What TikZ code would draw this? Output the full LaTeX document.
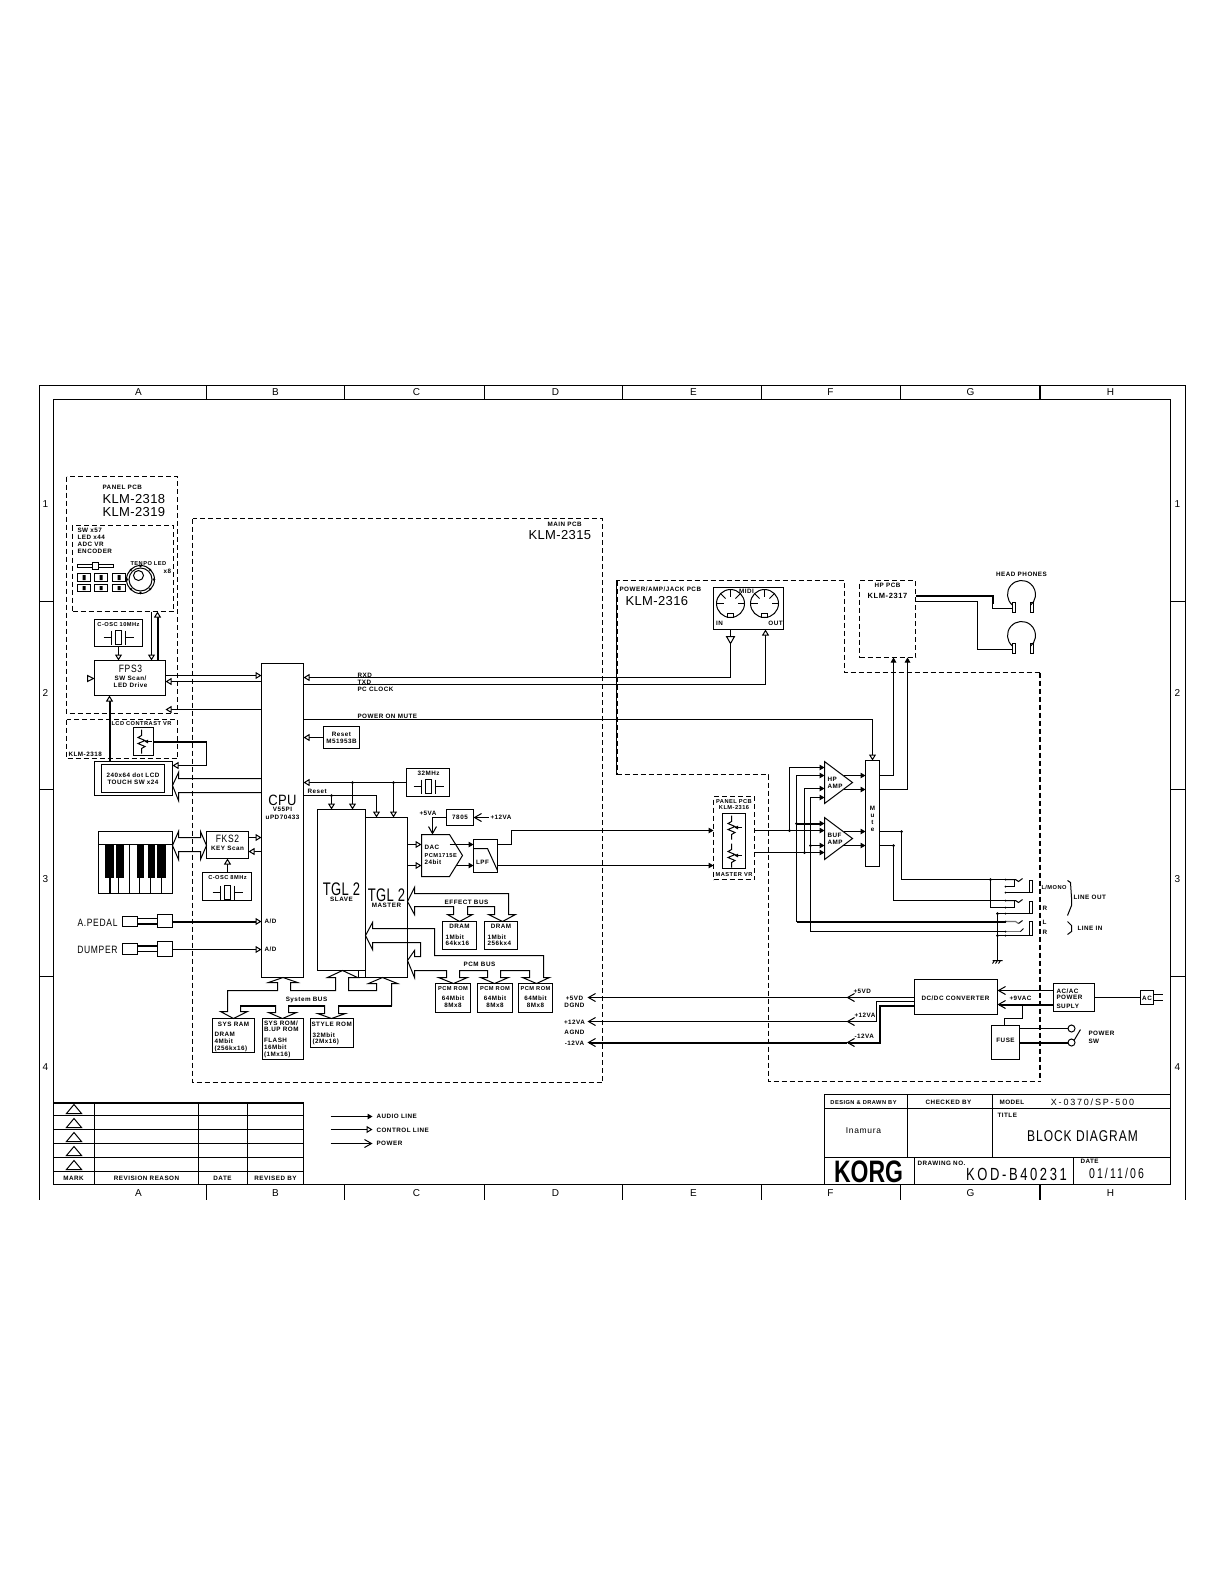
\documentclass[tikz,border=0pt]{standalone}
\usepackage{graphicx}
\usepackage{fontspec}
\setmainfont{Liberation Sans}
\newfontfamily\cad[LetterSpace=8]{Liberation Sans}
\newfontfamily\cadw[LetterSpace=20]{Liberation Sans}
\newfontfamily\cadn[LetterSpace=3]{Liberation Sans}
\usetikzlibrary{arrows.meta}
\newcounter{labc}
\tikzset{
 wire/.style={line width=1pt},
 fat/.style={line width=2pt},
 dsh/.style={line width=1pt,dash pattern=on 5pt off 3pt},
 dshb/.style={line width=2pt,dash pattern=on 5pt off 3pt},
 ctl/.style={wire,-{Triangle[open,length=6pt,width=7pt,fill=white,line width=1pt]}},
 fatctl/.style={fat,-{Triangle[open,length=6pt,width=7pt,fill=white,line width=1pt]}},
 aud/.style={wire,-{Triangle[length=5pt,width=5.5pt]}},
 fataud/.style={fat,-{Triangle[length=5pt,width=5.5pt]}},
 pow/.style={wire,-{Straight Barb[length=7pt,width=8pt,line width=1pt]}},
 fatpow/.style={fat,-{Straight Barb[length=7pt,width=8pt,line width=1pt]}},
 boxn/.style={draw,rectangle,line width=1pt,inner sep=0pt,outer sep=0pt},
 lbl/.style={inner sep=0pt,outer sep=0pt},
 sm/.style={lbl,font=\cad\bfseries\fontsize{6.3}{7}\selectfont},
 sx/.style={lbl,font=\cad\bfseries\fontsize{5.7}{6}\selectfont},
 md/.style={lbl,font=\cad\fontsize{8.5}{9}\selectfont},
 fr/.style={lbl,font=\cad\fontsize{10}{10}\selectfont},
 mb/.style={lbl,font=\cad\bfseries\fontsize{7.5}{8}\selectfont},
 lg/.style={lbl,font=\cadn\fontsize{13}{13}\selectfont},
 w/.style={anchor=west},
}
\newcommand\tall[2]{\scalebox{1}[#1]{#2}}
\newcommand\bx[6][]{\pgfmathsetmacro\bw{#5-#3}\pgfmathsetmacro\bh{#6-#4}\pgfmathsetmacro\bcx{(#3+#5)/2}\pgfmathsetmacro\bcy{(#4+#6)/2}\node[boxn,minimum width=\bw pt,minimum height=\bh pt,#1] (#2) at (\bcx,\bcy) {};}
\newcommand\lab[4][sm]{\stepcounter{labc}\node[#1] (lab\arabic{labc}) at (#2,#3) {#4};}
\newcommand\jdot[1]{\fill (#1) circle[radius=1.5pt];}
\newcommand\crystal[2]{\begin{scope}[shift={(#1,#2)}]\draw[wire] (-15,0)--(-7,0) (-7,-7)--(-7,7) (-3,-7) rectangle (3,7) (7,-7)--(7,7) (7,0)--(15,0);\end{scope}}
\newcommand\potsym[2]{\begin{scope}[shift={(#1,#2)}]\draw[wire] (0,-12)--(0,-6)--(-3.5,-4)--(3.5,-1)--(-3.5,2)--(3.5,5)--(0,7)--(0,12);\draw[wire,-{Triangle[length=3.5pt,width=3.5pt]}] (10,0)--(3,0);\end{scope}}
\newcommand\jackout[1]{\begin{scope}[shift={(0,#1)}]\draw[wire] (1005,0)--(1015,0)--(1018,2)--(1022,-1);\draw[line width=1.2pt] (1005,7)--(1014,7)--(1014,0);\draw[wire] (1005,13)--(1032,13)--(1032,1)--(1029,1)--(1029,13);\fill (1005,0) circle[radius=1pt] (1005,7) circle[radius=1pt] (1005,13) circle[radius=1pt];\end{scope}}
\newcommand\midic[2]{\begin{scope}[shift={(#1,#2)}]\draw[wire] (0,0) circle[radius=14pt];\foreach \a in {180,225,270,315,360}{\draw[wire] (\a:14)--(\a:7);}\draw[wire] (-3,10) rectangle (3,14);\end{scope}}
\newcommand\phone[2]{\begin{scope}[shift={(#1,#2)}]\draw[wire] (-9,10.7) arc[start angle=230,end angle=-50,radius=14pt];\draw[line width=1.1pt] (-9,8) rectangle (-6,18) (9,8) rectangle (12,18);\end{scope}}
\begin{document}
\begin{tikzpicture}[x=1pt,y=-1pt,shift={(0.5,0.5)}]
\path[use as bounding box,fill=white] (-0.5,-0.5) rectangle (1224.5,1584.5);
% ---- frame
\draw[wire] (39,1199)--(39,385)--(1185,385)--(1185,1199);
\bx{frameinner}{53}{399}{1170}{1184}
\foreach \x in {206,344,484,622,761,900}{\draw[wire] (\x,385)--(\x,399) (\x,1184)--(\x,1199);}
\draw[fat] (1039,385)--(1039,399) (1039,1184)--(1039,1199);
\foreach \y in {601,789,976}{\draw[wire] (39,\y)--(53,\y) (1170,\y)--(1185,\y);}
\lab[fr]{138}{392}{A}\lab[fr]{275}{392}{B}\lab[fr]{416}{392}{C}\lab[fr]{555}{392}{D}\lab[fr]{693}{392}{E}\lab[fr]{830}{392}{F}\lab[fr]{970}{392}{G}\lab[fr]{1110}{392}{H}
\lab[fr]{138}{1193}{A}\lab[fr]{275}{1193}{B}\lab[fr]{416}{1193}{C}\lab[fr]{555}{1193}{D}\lab[fr]{693}{1193}{E}\lab[fr]{830}{1193}{F}\lab[fr]{970}{1193}{G}\lab[fr]{1110}{1193}{H}
\lab[fr]{45}{504}{1}\lab[fr]{45}{692}{2}\lab[fr]{45}{879}{3}\lab[fr]{45}{1067}{4}
\lab[fr]{1177}{504}{1}\lab[fr]{1177}{692}{2}\lab[fr]{1177}{879}{3}\lab[fr]{1177}{1067}{4}
% ---- dashed zones
\draw[dsh] (66,476) rectangle (177,713);
\draw[dsh] (66,719) rectangle (177,758);
\draw[dsh] (192,518) rectangle (602,1082);
\draw[dsh] (616,774)--(616,580)--(844,580)--(844,672)--(1039,672);
\draw[dshb] (616,580)--(616,774);
\draw[dsh] (616,774)--(768,774)--(768,1081)--(1039,1081);
\draw[dshb] (1039,672)--(1039,1081);
% ---- panel pcb
\lab[sm,w]{102}{487}{PANEL PCB}
\lab[lg,w]{102}{499}{KLM-2318}
\lab[lg,w]{102}{512}{KLM-2319}
\bx[dsh]{swbox}{72}{525}{173}{611}
\lab[sm,w]{77}{530}{SW x57}\lab[sm,w]{77}{537}{LED x44}\lab[sm,w]{77}{544}{ADC VR}\lab[sm,w]{77}{551}{ENCODER}
\draw[wire] (77,564) rectangle (113,567);
\draw[wire,fill=white] (92,562) rectangle (98,569);
\foreach \xa/\xb in {77/90,94/107,112/125}{
  \draw[wire] (\xa,573) rectangle (\xb,581) (\xa,584) rectangle (\xb,591);
  \pgfmathsetmacro\xc{(\xa+\xb)/2}
  \fill (\xc-1.5,574.5) rectangle (\xc+1.5,579.5) (\xc-1.5,585.5) rectangle (\xc+1.5,589.5);}
\lab[sx,w]{130}{563}{TENPO LED}
\lab[sm,w]{163}{571}{x8}
\begin{scope}[shift={(140,579)}]
\draw[wire] (0,0) circle[radius=14pt] (0,0) circle[radius=11.5pt] (-2,-4) circle[radius=5pt];
\foreach \a in {0,45,...,315}{\fill (\a:13.5) circle[radius=1.3pt];}
\end{scope}
\bx{osca}{94}{619}{142}{646}
\lab[sx]{118}{624}{C-OSC 10MHz}
\crystal{118}{637}
\bx{fps}{94}{660}{165}{695}
\lab[md]{130}{668}{\tall{1.25}{FPS3}}\lab[sm]{130}{678}{SW Scan/}\lab[sm]{130}{685}{LED Drive}
\draw[ctl] (osca.south)--(osca.south |- fps.north);
\draw[ctl] (swbox.south -| 151,0)--(fps.north -| 151,0);
\draw[fatctl] (fps.north -| 157,0)--(swbox.south -| 157,0);
\draw[wire,fill=white] (87,675)--(93,678)--(87,681)--cycle;
% ---- CPU
\bx{cpu}{261}{663}{303}{977}
\lab[lg]{282}{800}{\tall{1.15}{CPU}}\lab[sm]{282}{809}{V55PI}\lab[sm]{282}{817}{uPD70433}
\draw[ctl] (fps.east |- 0,675)--(cpu.west |- 0,675);
\draw[ctl] (cpu.west |- 0,681)--(fps.east |- 0,681);
\coordinate (pnlfree) at (165,709);
\draw[ctl] (cpu.west |- 0,709)--(pnlfree);
% ---- LCD
\lab[sx,w]{111}{723}{LCD CONTRAST VR}
\lab[sm,w]{68}{754}{KLM-2318}
\bx{cvr}{133}{727}{153}{755}
\potsym{141}{741}
\bx{lcd}{94}{761}{172}{795}
\bx{lcdin}{101}{764}{164}{792}
\lab[sm]{132.5}{775}{240x64 dot LCD}\lab[sm]{132.5}{782}{TOUCH SW x24}
\draw[fatctl] (lcd.north -| 109,0)--(fps.south -| 109,0);
\draw[fat] (cvr.east)--(cvr.east -| 206,0);
\draw[ctl] (cvr.east -| 206,0)--(206,765)--(lcd.east |- 0,765);
\draw[wire] (cpu.west |- 0,778)--(178,778)--(178,772)--(lcd.east |- 0,785)--(178,800)--(178,792)--(cpu.west |- 0,792);
% ---- keyboard
\bx{kbd}{98}{831}{172}{893}
\draw[wire] (98,844)--(172,844);
\foreach \x in {118,129,139,150,161}{\draw[wire] (\x,844)--(\x,893);}
\draw[fat] (109,844)--(109,893);
\foreach \xa/\xb in {104/113,115/123,136/143,147/154,156/165}{\fill (\xa,844) rectangle (\xb,877);}
\bx{fks}{206}{831}{248}{858}
\lab[md]{227}{838}{\tall{1.25}{FKS2}}\lab[sm]{227}{848}{KEY Scan}
\draw[wire] (kbd.east |- 0,845)--(178,831)--(178,837)--(200,837)--(200,831)--(fks.west |- 0,845)--(200,859)--(200,851)--(178,851)--(178,859)--cycle;
\draw[ctl] (fks.east |- 0,837)--(cpu.west |- 0,837);
\draw[ctl] (cpu.west |- 0,851)--(fks.east |- 0,851);
\bx{oscb}{202}{872}{251}{900}
\lab[sx]{227}{877}{C-OSC 8MHz}
\crystal{227}{892}
\draw[ctl] (oscb.north -| fks.south)--(fks.south);
% ---- pedals
\lab[md,anchor=east]{117}{922}{\tall{1.25}{A.PEDAL}}
\bx{pda}{122}{916}{137}{926}
\bx{pdb}{157}{914}{172}{927}
\draw[wire] (pda.east |- 0,918)--(pdb.west |- 0,918);
\draw[fat] (pda.east |- 0,923)--(pdb.west |- 0,923);
\draw[fatctl] (pdb.east |- 0,921)--(cpu.west |- 0,921);
\lab[sm,w]{264}{921}{A/D}
\lab[md,anchor=east]{117}{949}{\tall{1.25}{DUMPER}}
\bx{dpa}{122}{943}{137}{954}
\bx{dpb}{157}{941}{172}{956}
\draw[fat] (dpa.east |- 0,945)--(dpb.west |- 0,945);
\draw[wire] (dpa.east |- 0,951)--(dpb.west |- 0,951);
\draw[ctl] (dpb.east |- 0,949)--(cpu.west |- 0,949);
\lab[sm,w]{264}{949}{A/D}
% ---- right of CPU
\lab[sm,w]{357}{675}{RXD}\lab[sm,w]{357}{682}{TXD}\lab[sm,w]{357}{689}{PC CLOCK}\lab[sm,w]{357}{716}{POWER ON MUTE}
\bx{midi}{713}{587}{783}{629}
\midic{730}{603}\midic{764}{603}
\lab[sm]{746}{591}{MIDI}\lab[sm]{719}{623}{IN}\lab[sm]{775}{623}{OUT}
\draw[ctl] (midi.south -| 730,0)--(730,677)--(cpu.east |- 0,677);
\draw[wire,fill=white] (726,636)--(734,636)--(730,643)--cycle;
\draw[ctl] (cpu.east |- 0,684)--(765,684)--(midi.south -| 765,0);
\bx{mute}{865}{760}{879}{866}
\foreach \c/\yy in {M/808,u/815,t/822,e/829}{\lab[sm]{872}{\yy}{\c}}
\draw[ctl] (cpu.east |- 0,719)--(mute.north |- 0,719)--(mute.north);
\bx{rst}{323}{726}{359}{748}
\lab[sm]{341}{734}{Reset}\lab[sm]{341}{741}{M51953B}
\draw[ctl] (rst.west)--(rst.west -| cpu.east);
\bx{xtal}{406}{768}{449}{796}
\lab[sm]{428}{773}{32MHz}
\crystal{428}{786}
\draw[ctl] (xtal.west)--(xtal.west -| cpu.east);
% ---- TGL
\bx{tgm}{365}{817}{407}{977}
\bx[fill=white]{tgs}{317}{809}{365}{970}
\draw[wire] (358,970)--(358,977)--(tgm.south west);
\lab[lg]{341}{889}{\tall{1.4}{TGL 2}}\lab[sm]{341}{899}{SLAVE}
\lab[lg]{386}{895}{\tall{1.4}{TGL 2}}\lab[sm]{386}{905}{MASTER}
\coordinate (ja) at (352,782);\coordinate (jb) at (393,782);\coordinate (jc) at (331,795);
\jdot{ja}\jdot{jb}\jdot{jc}
\draw[ctl] (ja)--(ja |- tgs.north);
\draw[ctl] (jb)--(jb |- tgm.north);
\draw[ctl] (jc)--(jc |- tgs.north);
\draw[ctl] (cpu.east |- 0,795)--(376,795)--(tgm.north -| 376,0);
\lab[sm,w]{307}{791}{Reset}
% ---- DAC / LPF
\draw[wire] (421,834)--(449,834)--(462,855)--(449,876)--(421,876)--cycle;
\coordinate (dacn) at (432,834);\coordinate (dacA) at (421,844);\coordinate (dacB) at (421,865);\coordinate (dacC) at (449,844);\coordinate (dacD) at (456,865);
\lab[sm,w]{424}{847}{DAC}\lab[sx,w]{424}{855}{PCM1715E}\lab[sm,w]{424}{862}{24bit}
\bx{reg}{446}{809}{473}{825}
\lab[sm]{459.5}{817}{7805}
\lab[sm,w]{419}{813}{+5VA}
\lab[sm,w]{490}{817}{+12VA}
\draw[pow] (reg.west)--(reg.west -| dacn)--(dacn);
\coordinate (p12) at (488,817);
\draw[pow] (p12)--(reg.east);
\bx{lpf}{473}{839}{497}{872}
\draw[wire] (473,848)--(487,848)--(497,870);
\lab[sm]{482}{862}{LPF}
\draw[ctl] (tgm.east |- dacA)--(dacA);
\draw[ctl] (tgm.east |- dacB)--(dacB);
\draw[aud] (dacC)--(dacC -| lpf.west);
\draw[aud] (dacD)--(dacD -| lpf.west);
% ---- buses
\draw[wire] (227,1011)--(227,990)--(277,990)--(277,982)--(268,982)--(282.5,977)--(297,982)--(290,982)--(290,990)--(335,990)--(335,977)--(327,977)--(342,970)--(357,977)--(348,977)--(348,990)--(376,990)--(376,983)--(368,983)--(382,977)--(397,983)--(391,983)--(391,1005)--(338,1005)--(338,1013)--(345,1013)--(331,1018)--(317,1013)--(324,1013)--(324,1005)--(288,1005)--(288,1012)--(296,1012)--(282,1018)--(268,1012)--(275,1012)--(275,1005)--(240,1005)--(240,1011)--(247,1011)--(233,1018)--(220,1011)--cycle;
\draw[fat] (240,1005)--(275,1005) (288,1005)--(324,1005) (338,1005)--(391,1005);
\lab[sm]{306}{999}{System BUS}
\draw[wire] (414,887)--(414,893)--(508,893)--(508,914)--(515,914)--(502,921)--(488,914)--(494,914)--(494,906)--(467,906)--(467,914)--(472,914)--(459,921)--(447,914)--(453,914)--(453,906)--(414,906)--(414,914)--(407,901)--cycle;
\lab[sm]{466}{902}{EFFECT BUS}
\draw[wire] (372,922)--(372,928)--(434,928)--(434,955)--(543,955)--(543,977)--(549,977)--(536,983)--(522,977)--(529,977)--(529,970)--(500,970)--(500,977)--(508,977)--(494,983)--(480,977)--(487,977)--(487,970)--(459,970)--(459,977)--(467,977)--(453,983)--(438,977)--(446,977)--(446,970)--(414,970)--(414,977)--(407,960)--(414,950)--(414,956)--(420,956)--(420,942)--(372,942)--(372,949)--(365,935)--cycle;
\lab[sm]{479}{964}{PCM BUS}
% ---- memories
\bx{dra}{442}{921}{476}{949}
\lab[sm]{459}{926}{DRAM}\lab[sm,w]{445}{937}{1Mbit}\lab[sm,w]{445}{943}{64kx16}
\bx{drb}{484}{921}{517}{949}
\lab[sm]{500.5}{926}{DRAM}\lab[sm,w]{487}{937}{1Mbit}\lab[sm,w]{487}{943}{256kx4}
\bx{pra}{435}{983}{470}{1012}
\bx{prb}{477}{983}{512}{1012}
\bx{prc}{518}{983}{552}{1012}
\foreach \xx in {452.5,494.5,535}{\lab[sx]{\xx}{988.5}{PCM ROM}\lab[sm]{\xx}{998}{64Mbit}\lab[sm]{\xx}{1005}{8Mx8}}
\bx{sysram}{212}{1018}{254}{1052}
\lab[sm]{233}{1024}{SYS RAM}\lab[sm,w]{214}{1034}{DRAM}\lab[sm,w]{214}{1041}{4Mbit}\lab[sm,w]{214}{1048}{(256kx16)}
\bx{sysrom}{262}{1018}{303}{1059}
\lab[sm,w]{263.5}{1023}{SYS ROM/}\lab[sm,w]{263.5}{1029}{B.UP ROM}\lab[sm,w]{263.5}{1040}{FLASH}\lab[sm,w]{263.5}{1047}{16Mbit}\lab[sm,w]{263.5}{1054}{(1Mx16)}
\bx{stylerom}{310}{1018}{353}{1047}
\lab[sm,w]{311}{1024}{STYLE ROM}\lab[sm,w]{312}{1035}{32Mbit}\lab[sm,w]{312}{1041}{(2Mx16)}
\lab[sm,w]{547}{524}{MAIN PCB}
\lab[lg,w]{528}{535}{KLM-2315}
% ---- power labels
\lab[sm]{574}{998}{+5VD}\lab[sm]{574}{1005}{DGND}\lab[sm]{574}{1022}{+12VA}\lab[sm]{574}{1032}{AGND}\lab[sm]{574}{1043}{-12VA}
% ---- amp pcb
\lab[sm,w]{619}{589}{POWER/AMP/JACK PCB}
\lab[lg,w]{625}{601}{KLM-2316}
\bx[dsh]{hppcb}{859}{580}{915}{657}
\lab[sm]{887}{585}{HP PCB}
\lab[mb]{887}{595}{KLM-2317}
\lab[sm]{1021}{574}{HEAD PHONES}
\phone{1021}{594}
\phone{1021}{635}
\coordinate (pha) at (1012,608);\coordinate (phb) at (1012,649);
\draw[fat] (hppcb.east |- 0,595)--(992,595)--(992,603);
\draw[wire] (992,595)--(992,608)--(pha);
\draw[wire] (hppcb.east |- 0,601)--(977,601)--(977,649)--(phb);
% ---- master VR
\bx[dsh]{mvr}{713}{796}{754}{879}
\lab[sx]{733.5}{801.5}{PANEL PCB}\lab[sx]{733.5}{807.5}{KLM-2316}\lab[sx]{733.5}{874}{MASTER VR}
\bx{vrin}{722}{813}{745}{868}
\potsym{731}{827}\potsym{731}{855}
\draw[aud] (lpf.east |- dacC)--(511,844)--(511,830)--(mvr.west |- 0,830);
\draw[aud] (lpf.east |- 0,865)--(mvr.west |- 0,865);
% ---- amps
\draw[wire] (824,761)--(852,782)--(824,803)--cycle;
\draw[wire] (824,817)--(852,838)--(824,859)--cycle;
\lab[sm,w]{827}{779}{HP}\lab[sm,w]{827}{785.5}{AMP}
\lab[sm,w]{827}{835}{BUF}\lab[sm,w]{827}{841.5}{AMP}
\coordinate (ha) at (824,767);\coordinate (hb) at (824,775);\coordinate (hc) at (824,788);\coordinate (hd) at (824,797);
\coordinate (ba) at (824,823);\coordinate (bb) at (824,830);\coordinate (bc) at (824,845);\coordinate (bd) at (824,852);
\coordinate (jva) at (789,830);\coordinate (jvb) at (804,852);\coordinate (jvc) at (796,823);\coordinate (jvd) at (810,845);
\jdot{jva}\jdot{jvb}\jdot{jvc}\jdot{jvd}
\draw[aud] (mvr.east |- bb)--(bb);
\draw[aud] (jva)--(789,767)--(ha);
\draw[aud] (mvr.east |- bd)--(bd);
\draw[aud] (jvb)--(804,788)--(hc);
\draw[aud] (796,921)--(796,775)--(hb);
\draw[aud] (810,931)--(810,797)--(hd);
\draw[fataud] (jvc)--(ba);
\draw[aud] (jvd)--(bc);
\draw[aud] (843,775)--(mute.west |- 0,775);
\draw[aud] (843,789)--(mute.west |- 0,789);
\draw[aud] (843,831)--(mute.west |- 0,831);
\draw[aud] (842,845)--(mute.west |- 0,845);
\draw[aud] (mute.east |- 0,775)--(893,775)--(hppcb.south -| 893,0);
\draw[aud] (mute.east |- 0,789)--(907,789)--(hppcb.south -| 907,0);
% ---- jacks
\jackout{879}\jackout{900}
\draw[fat] (796,921)--(1005,921);
\draw[line width=1.2pt,black!55] (1005,921)--(1015,921)--(1018,923);
\draw[wire] (1018,923)--(1022,920);
\draw[wire] (810,931)--(1005,931);
\draw[line width=1.2pt,black!55] (1005,931)--(1020,931);
\draw[wire] (1020,931)--(1023,928);
\draw[wire] (1032,935)--(1032,921)--(1029,921)--(1029,935);
\draw[wire] (997,935)--(1032,935);
\fill (1005,921) circle[radius=1pt] (1005,931) circle[radius=1pt] (1005,935) circle[radius=1pt];
\coordinate (jma) at (901,831);\coordinate (jmb) at (893,845);\coordinate (jmc) at (990,879);\coordinate (jgd) at (997,913);\coordinate (jge) at (997,935);
\jdot{jma}\jdot{jmb}\jdot{jmc}\jdot{jgd}\jdot{jge}
\draw[wire] (mute.east |- jma)--(jma)--(901,879)--(1005,879);
\draw[wire] (mute.east |- jmb)--(jmb)--(893,900)--(1005,900);
\draw[wire] (jmc)--(990,907)--(1005,907);
\draw[wire] (jgd)--(1005,913);
\draw[wire] (jgd)--(997,960);
\draw[wire] (992,960)--(1002,960) (994,960)--(992,963) (997,960)--(995,963) (1000,960)--(998,963);
\lab[sx,w]{1041}{887}{L/MONO}\lab[sm,w]{1042}{908}{R}\lab[sm,w]{1042}{922}{L}\lab[sm,w]{1042}{932}{R}
\draw[wire] (1067,880)--(1070,882)--(1071,897)--(1071,905)--(1067,915);
\draw[wire] (1067,921)--(1071,925)--(1071,931)--(1067,934);
\lab[sm,w]{1073}{897}{LINE OUT}\lab[sm,w]{1077}{928}{LINE IN}
% ---- power section
\bx{dcdc}{914}{979}{997}{1014}
\lab[sm]{955}{998}{DC/DC CONVERTER}
\coordinate (pa) at (846,997);\coordinate (pb) at (846,1021);\coordinate (pc) at (846,1042);
\coordinate (pd) at (587,997);\coordinate (pe) at (587,1021);\coordinate (pf) at (587,1042);
\draw[pow] (dcdc.west |- pa)--(pa);
\draw[pow] (pa)--(pd);
\draw[pow] (dcdc.west |- 0,1001)--(876,1001)--(876,1021)--(pb);
\draw[pow] (pb)--(pe);
\draw[fatpow] (dcdc.west |- 0,1005)--(879,1005)--(879,1042)--(pc);
\draw[fatpow] (pc)--(pf);
\lab[sm,w]{853}{991}{+5VD}\lab[sm,w]{854}{1015}{+12VA}\lab[sm,w]{854}{1036}{-12VA}
\lab[sm,w]{1009}{998}{+9VAC}
\bx{acac}{1053}{983}{1094}{1011}
\lab[sm,w]{1056}{990.5}{AC/AC}\lab[sm,w]{1056}{997}{POWER}\lab[sm,w]{1056}{1005.5}{SUPLY}
\draw[pow] (acac.west |- 0,990)--(dcdc.east |- 0,990);
\draw[fatpow] (acac.west |- 0,1004)--(dcdc.east |- 0,1004);
\bx{fuse}{991}{1025}{1019}{1059}
\lab[sm]{1005}{1040}{FUSE}
\draw[wire] (1022,1004)--(1022,1018)--(1004,1018)--(fuse.north -| 1004,0);
\coordinate (swa) at (1067,1028);\coordinate (swb) at (1067,1042);
\draw[wire] (fuse.east |- swa)--(swa);
\draw[fat] (fuse.east |- swb)--(swb);
\draw[wire] (1071,1028) circle[radius=3.5pt] (1071,1042) circle[radius=3.5pt];
\draw[wire] (1073.5,1040)--(1080,1029);
\lab[sm,w]{1088}{1033}{POWER}\lab[sm,w]{1088}{1041}{SW}
\bx{acp}{1140}{990}{1153}{1004}
\lab[sm]{1146.5}{997.5}{AC}
\draw[wire] (acac.east |- acp.west)--(acp.west);
\draw[wire] (1153,994)--(1162,994) (1153,1000)--(1162,1000);
% ---- revision table
\draw[fat] (53,1102)--(303,1102);
\draw[wire] (303,1102)--(303,1184);
\foreach \y in {1115,1129,1143,1157,1171}{\draw[wire] (53,\y)--(303,\y);}
\foreach \x in {94,198,247}{\draw[wire] (\x,1102)--(\x,1184);}
\foreach \y in {1113,1127,1141,1155,1169}{\draw[wire] (66,\y)--(73.5,\y-9)--(81,\y)--cycle;}
\lab[sm]{73}{1178}{MARK}\lab[sm]{146}{1178}{REVISION REASON}\lab[sm]{222}{1178}{DATE}\lab[sm]{275}{1178}{REVISED BY}
% ---- legend
\coordinate (lga) at (330,1116);\coordinate (lgb) at (330,1129);\coordinate (lgc) at (330,1143);
\coordinate (lgA) at (372,1116);\coordinate (lgB) at (372,1129);\coordinate (lgC) at (372,1143);
\draw[aud] (lga)--(lgA);
\draw[ctl] (lgb)--(lgB);
\draw[pow] (lgc)--(lgC);
\lab[sm,w]{376}{1116}{AUDIO LINE}\lab[sm,w]{376}{1129.5}{CONTROL LINE}\lab[sm,w]{376}{1143}{POWER}
% ---- title block
\draw[wire] (824,1184)--(824,1094)--(1170,1094);
\draw[wire] (824,1108)--(1170,1108) (824,1157)--(1170,1157);
\draw[wire] (907,1094)--(907,1157) (992,1094)--(992,1157) (914,1157)--(914,1184) (1073,1157)--(1073,1184);
\lab[sx]{863}{1102}{DESIGN \& DRAWN BY}
\lab[sm]{948}{1102}{CHECKED BY}
\lab[sm,w]{999}{1102}{MODEL}
\node[lbl,font=\cadw\fontsize{9}{9}\selectfont] (modelno) at (1092,1102) {X-0370/SP-500};
\lab[sm,w]{997}{1115}{TITLE}
\node[lbl,font=\cad\fontsize{12}{12}\selectfont] (titletext) at (1082,1136) {\tall{1.3}{BLOCK DIAGRAM}};
\lab[md]{863}{1130}{Inamura}
\node[lbl,font=\bfseries\fontsize{23}{23}\selectfont] (korg) at (868,1171) {\tall{1.35}{KORG}};
\lab[sm,w]{917}{1163}{DRAWING NO.}
\node[lbl,font=\cadw\fontsize{13}{13}\selectfont] (dwgno) at (1016,1174) {\tall{1.35}{KOD-B40231}};
\lab[sm,w]{1080}{1161}{DATE}
\node[lbl,font=\cadw\fontsize{10.5}{10.5}\selectfont] (dwgdate) at (1116,1173) {\tall{1.35}{01/11/06}};
\end{tikzpicture}
\end{document}
